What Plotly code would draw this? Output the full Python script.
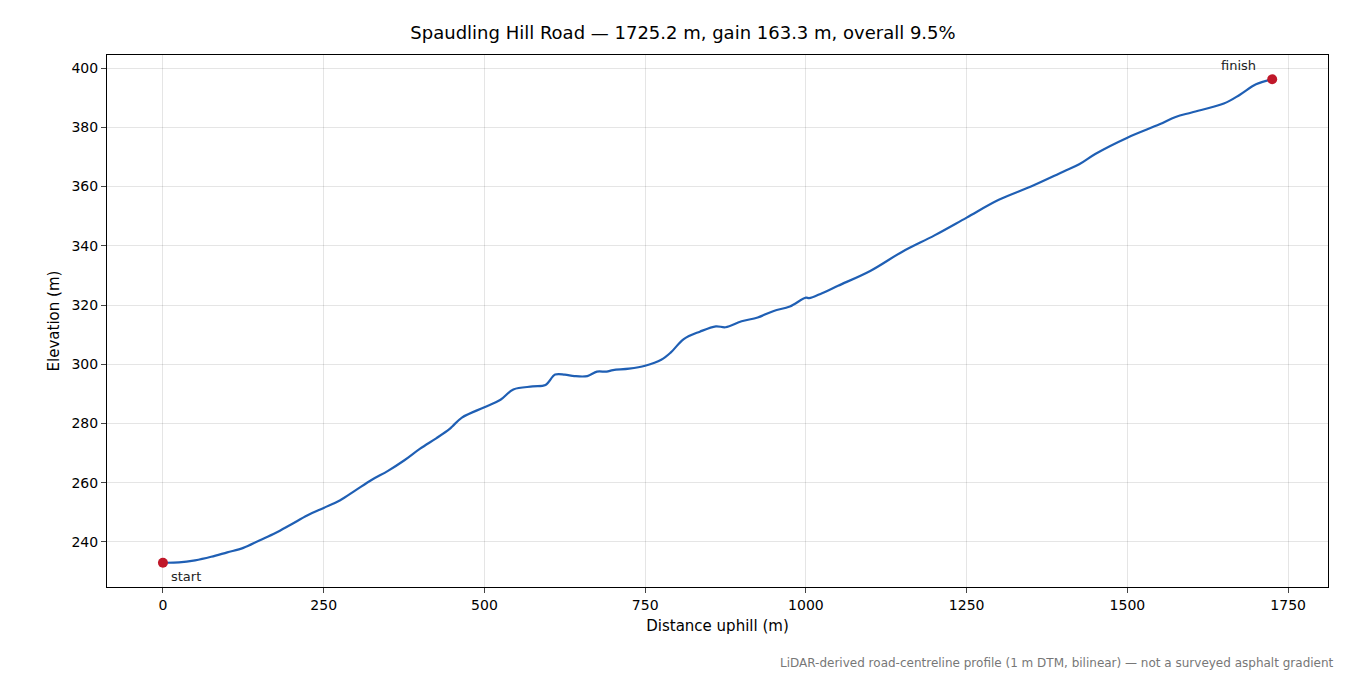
import plotly.graph_objects as go

dist = [0,25,50,75,100,125,150,175,200,225,250,275,300,325,350,375,400,425,445,450,465,500,525,545,575,595,610,625,640,660,675,690,700,725,750,775,790,810,835,860,875,900,925,950,975,1000,1005,1025,1050,1100,1150,1200,1250,1300,1350,1400,1425,1450,1500,1550,1575,1600,1650,1675,1700,1725.2]
elev = [233.0,233.1,233.8,235,236.5,238,240.5,243,246,249,251.5,254,257.5,261,264,267.5,271.5,275,278,279,282,285.5,288,291.5,292.5,293,296.5,296.5,296,296,297.5,297.5,298,298.5,299.5,301.5,304,308.5,311,312.8,312.5,314.5,315.8,318,319.5,322.5,322.3,324,326.5,331.5,338,343.5,349.5,355.5,360,365,367.5,371,376.5,381,383.5,385,388,391,394.5,396.2]

fig = go.Figure()
fig.add_trace(go.Scatter(x=dist, y=elev, mode="lines", line=dict(color="#1f5fb4", width=2.2), line_shape="spline", showlegend=False))
fig.add_trace(go.Scatter(x=[dist[0], dist[-1]], y=[elev[0], elev[-1]], mode="markers",
                         marker=dict(color="#c0182a", size=10), showlegend=False))
fig.add_annotation(x=dist[0], y=elev[0], text="start", showarrow=False, xanchor="left", yanchor="top", xshift=6, yshift=-4, font=dict(size=13, color="#222"))
fig.add_annotation(x=dist[-1], y=elev[-1], text="finish", showarrow=False, xanchor="right", yanchor="bottom", xshift=-14, yshift=4, font=dict(size=13, color="#222"))
fig.add_annotation(xref="paper", yref="paper", x=1.0066, y=-0.125, text="LiDAR-derived road-centreline profile (1 m DTM, bilinear) — not a surveyed asphalt gradient",
                   showarrow=False, xanchor="right", yanchor="top", font=dict(size=12, color="#777"))

ax = dict(showline=True, linecolor="black", mirror=True, ticks="outside", gridcolor="rgba(0,0,0,0.1)", zeroline=False, tickfont=dict(size=14, color="black"))
fig.update_layout(
    width=1350, height=675, plot_bgcolor="white", paper_bgcolor="white",
    font=dict(family="DejaVu Sans", color="black"),
    margin=dict(l=99, r=30, t=47, b=96, autoexpand=False),
    title=dict(text="Spaudling Hill Road — 1725.2 m, gain 163.3 m, overall 9.5%", x=0.5, xanchor="center", y=0.963, yanchor="middle", font=dict(size=18)),
    xaxis=dict(ax, range=[-87, 1812], tickvals=[0,250,500,750,1000,1250,1500,1750], title=dict(text="Distance uphill (m)", font=dict(size=15), standoff=8)),
    yaxis=dict(ax, range=[224.8, 404.4], tickvals=list(range(240, 401, 20)), title=dict(text="Elevation (m)", font=dict(size=15), standoff=8)),
)
fig.write_html("out.html")
